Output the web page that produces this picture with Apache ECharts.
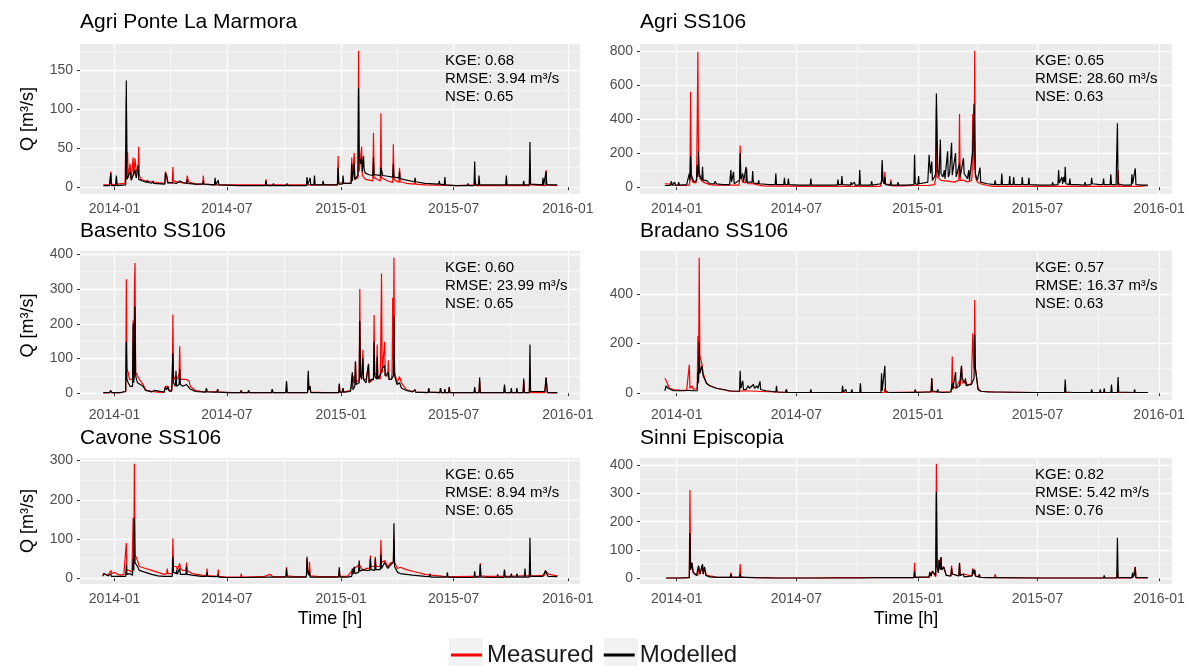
<!DOCTYPE html>
<html>
<head>
<meta charset="utf-8">
<script src="https://cdn.jsdelivr.net/npm/echarts@6/dist/echarts.min.js"></script>
<style>
  html, body { margin: 0; padding: 0; background: #fff; }
  #chart { width: 1189px; height: 666px; }
</style>
</head>
<body>
<div id="chart"></div>
<script>
// days are counted from 2014-01-01, values in m3/s

const agriPonteMeasured = [[-18,3],[-15,4],[-8,3],[-6,20],[-5,4],[2,3],[3,12],[4,4],[17,5],[19,115],[20,30],[21,45],[22,12],[25,30],[27,10],[30,38],[31,15],[33,37],[35,20],[38,25],[39,52],[40,15],[43,10],[50,8],[60,7],[70,6],[81,5],[82,20],[84,18],[86,6],[93,5],[94,26],[95,8],[105,6],[116,5],[117,15],[119,7],[130,4],[142,4],[143,15],[144,4],[160,3],[162,4],[180,3],[200,3],[243,3],[244,10],[245,3],[280,3],[320,3],[359,3],[360,40],[361,6],[370,5],[381,5],[382,38],[383,10],[386,44],[387,10],[392,12],[393,175],[394,20],[398,52],[399,15],[404,10],[416,8],[417,70],[418,12],[428,8],[429,95],[430,12],[440,8],[448,6],[449,55],[450,10],[458,6],[459,25],[460,7],[470,5],[483,4],[484,8],[485,4],[500,3],[550,2],[580,3],[581,8],[582,2],[620,2],[668,2],[669,25],[670,3],[694,2],[695,22],[696,3],[713,2]];
const agriPonteModelled = [[-18,2],[-8,2],[-6,18],[-5,2],[2,2],[3,15],[4,2],[18,3],[19,137],[20,10],[22,8],[25,20],[27,9],[33,22],[35,12],[38,28],[39,10],[45,8],[52,6],[53,9],[54,6],[60,5],[62,8],[63,5],[81,4],[82,18],[84,15],[86,5],[90,6],[100,5],[105,8],[110,6],[116,5],[117,10],[118,5],[130,4],[142,4],[143,8],[144,4],[161,3],[162,12],[163,3],[166,3],[167,9],[168,3],[200,2],[243,2],[244,8],[245,2],[255,2],[256,5],[257,2],[268,2],[269,4],[270,2],[277,2],[278,5],[279,2],[309,2],[310,13],[311,3],[314,3],[315,12],[316,3],[321,3],[322,15],[323,3],[335,3],[336,8],[337,3],[359,3],[360,25],[361,4],[367,4],[368,15],[369,5],[381,5],[382,30],[383,8],[386,30],[387,10],[392,15],[393,127],[394,40],[396,30],[398,38],[399,20],[401,40],[402,22],[404,18],[410,16],[416,15],[417,38],[418,16],[428,15],[429,25],[430,24],[432,15],[440,14],[448,13],[449,30],[450,13],[458,12],[459,20],[460,11],[470,9],[483,7],[484,12],[485,7],[500,5],[522,4],[523,8],[524,4],[531,3],[532,13],[533,3],[550,2],[568,2],[569,5],[570,2],[579,2],[580,33],[581,3],[586,3],[587,15],[588,3],[630,3],[631,15],[632,3],[658,3],[659,8],[660,3],[668,3],[669,58],[670,4],[689,3],[690,12],[691,3],[694,3],[695,20],[696,3],[713,3]];

const agriSS106Measured = [[-18,20],[-10,18],[-5,12],[5,10],[15,10],[19,12],[20,40],[21,560],[22,60],[24,30],[29,25],[30,40],[31,380],[32,795],[33,120],[35,50],[40,30],[50,15],[60,12],[80,12],[94,12],[95,30],[96,245],[97,60],[100,30],[104,25],[105,30],[106,110],[107,20],[115,20],[130,8],[150,6],[170,6],[200,5],[240,5],[270,5],[290,5],[308,5],[310,30],[311,130],[312,40],[314,20],[315,90],[316,20],[323,10],[324,45],[325,8],[340,8],[360,10],[380,10],[390,15],[392,50],[393,470],[394,60],[400,40],[410,35],[420,30],[427,40],[428,430],[429,40],[435,40],[440,30],[446,40],[447,60],[448,430],[450,100],[451,800],[452,60],[455,30],[460,20],[470,10],[480,5],[550,5],[600,5],[650,5],[667,5],[668,100],[669,5],[700,5],[713,10]];
const agriSS106Modelled = [[-18,10],[-10,10],[-9,12],[-8,35],[-7,10],[-4,12],[-3,30],[-2,10],[2,12],[3,30],[4,12],[15,15],[18,20],[19,80],[20,40],[21,180],[22,70],[24,60],[26,30],[30,40],[31,130],[32,60],[33,210],[34,80],[36,60],[38,40],[39,120],[40,40],[45,40],[50,20],[57,20],[58,35],[60,20],[70,15],[80,15],[81,20],[82,100],[83,30],[85,25],[86,90],[87,20],[95,40],[96,200],[97,50],[99,40],[100,80],[101,30],[104,40],[105,120],[106,30],[114,30],[115,95],[116,25],[123,20],[124,40],[125,20],[140,15],[149,15],[150,80],[151,15],[162,15],[163,55],[164,15],[168,15],[169,50],[170,15],[185,12],[202,12],[203,50],[204,12],[230,12],[243,12],[244,45],[245,15],[249,15],[250,65],[251,15],[263,12],[264,30],[265,15],[268,12],[269,30],[270,12],[276,12],[277,100],[278,12],[294,12],[295,35],[296,12],[309,20],[310,40],[311,160],[312,40],[314,20],[315,60],[316,15],[323,12],[324,30],[325,12],[334,12],[335,30],[336,12],[348,12],[359,15],[360,190],[361,20],[365,15],[366,65],[367,20],[380,30],[381,40],[382,190],[384,80],[386,150],[387,40],[390,60],[392,80],[393,550],[395,100],[397,60],[399,280],[400,80],[403,60],[405,100],[406,50],[409,60],[410,210],[411,60],[413,80],[415,70],[416,260],[417,70],[420,60],[422,200],[423,60],[426,50],[428,140],[429,60],[432,60],[434,170],[435,80],[438,90],[440,50],[442,100],[443,40],[446,50],[448,210],[450,490],[452,80],[455,40],[458,30],[459,115],[460,30],[470,20],[481,15],[482,40],[483,15],[491,15],[492,80],[493,15],[503,15],[504,65],[505,15],[509,15],[510,60],[511,15],[522,15],[523,60],[524,15],[532,15],[533,55],[534,15],[550,12],[568,12],[569,30],[570,12],[577,15],[578,100],[579,25],[582,20],[583,60],[584,20],[586,60],[587,30],[588,120],[589,20],[594,15],[595,50],[596,15],[605,15],[617,12],[618,30],[619,12],[627,15],[628,55],[629,20],[640,15],[645,15],[646,50],[647,15],[656,15],[657,75],[658,15],[665,15],[666,20],[667,375],[668,20],[675,12],[688,12],[689,75],[690,20],[693,20],[694,110],[695,15],[705,12],[713,12]];

const basentoMeasured = [[-18,1],[-8,2],[-7,2],[-6,8],[-5,2],[10,2],[18,5],[19,328],[20,70],[22,60],[24,40],[29,40],[30,210],[31,40],[32,300],[33,375],[34,60],[37,55],[40,40],[46,25],[50,10],[60,5],[70,3],[80,3],[82,20],[84,15],[86,20],[88,8],[92,8],[93,30],[94,227],[95,50],[97,40],[99,50],[102,40],[104,60],[105,135],[106,40],[110,40],[115,40],[120,35],[122,20],[130,8],[140,5],[147,4],[148,15],[149,5],[165,3],[166,12],[167,4],[180,2],[203,2],[204,8],[205,2],[215,2],[216,8],[217,2],[253,2],[254,12],[255,2],[276,2],[277,30],[278,2],[311,2],[312,55],[313,10],[315,20],[316,3],[337,2],[338,5],[339,2],[361,2],[362,25],[363,3],[367,3],[368,15],[369,3],[380,8],[382,20],[383,55],[385,30],[386,50],[387,30],[388,90],[389,30],[394,40],[395,300],[396,60],[398,50],[400,125],[401,40],[405,40],[407,35],[409,80],[410,30],[413,30],[417,40],[418,225],[419,60],[422,50],[423,140],[424,50],[428,40],[429,40],[430,345],[431,60],[434,60],[435,148],[436,50],[440,50],[441,95],[442,40],[446,40],[447,60],[448,275],[449,100],[450,390],[451,60],[455,30],[458,30],[459,48],[462,30],[470,10],[480,5],[483,3],[484,10],[485,3],[505,2],[506,15],[507,3],[524,2],[525,15],[526,2],[538,2],[539,18],[540,2],[579,2],[580,10],[581,2],[587,2],[588,35],[589,2],[627,2],[628,20],[629,2],[658,2],[659,35],[660,2],[668,2],[669,60],[670,2],[693,2],[695,45],[697,2],[713,1]];
const basentoModelled = [[-18,2],[-8,2],[-7,2],[-6,8],[-5,2],[10,2],[18,5],[19,148],[20,40],[22,30],[25,20],[29,20],[30,200],[31,30],[32,60],[33,250],[34,50],[37,30],[40,25],[46,20],[50,8],[51,5],[52,8],[60,4],[63,3],[64,8],[65,3],[80,3],[82,18],[84,10],[86,18],[88,6],[92,6],[93,10],[94,115],[95,30],[98,20],[99,65],[100,20],[104,25],[105,70],[106,25],[110,20],[116,25],[122,12],[130,5],[147,3],[148,15],[149,4],[165,3],[166,12],[167,3],[190,2],[203,2],[204,8],[205,2],[215,2],[216,8],[217,2],[253,2],[254,12],[255,2],[276,2],[277,35],[278,2],[311,2],[312,65],[313,10],[315,20],[316,2],[337,2],[338,5],[339,2],[361,2],[362,28],[363,3],[367,3],[368,15],[369,3],[380,5],[382,10],[383,60],[384,10],[387,20],[388,92],[389,25],[394,30],[395,208],[396,50],[398,40],[400,100],[401,40],[405,30],[408,30],[409,85],[410,30],[413,40],[417,40],[418,148],[419,50],[422,40],[423,105],[424,40],[430,60],[431,70],[435,80],[436,50],[441,60],[442,40],[446,40],[449,50],[450,222],[451,50],[455,25],[459,30],[462,15],[470,8],[480,4],[483,3],[484,10],[485,3],[505,2],[506,15],[507,3],[524,2],[525,15],[526,2],[531,2],[532,12],[533,2],[538,2],[539,18],[540,2],[579,2],[580,18],[581,2],[587,2],[588,45],[589,2],[627,2],[628,25],[629,2],[638,2],[639,15],[640,2],[647,2],[648,15],[649,2],[658,2],[659,42],[660,2],[668,2],[669,140],[670,5],[693,5],[695,45],[697,2],[713,2]];

const bradanoMeasured = [[-18,60],[-16,50],[-13,45],[-11,20],[-5,15],[5,12],[15,12],[18,15],[19,115],[20,20],[23,30],[25,15],[31,20],[32,230],[33,60],[34,545],[35,150],[38,120],[40,80],[45,40],[50,30],[60,20],[70,15],[80,8],[95,8],[100,10],[120,8],[150,5],[165,3],[166,15],[167,3],[200,3],[250,3],[280,3],[309,3],[310,5],[314,3],[315,20],[316,3],[360,5],[385,5],[386,60],[387,5],[410,5],[415,5],[416,20],[417,148],[418,30],[422,20],[428,50],[429,30],[431,110],[432,40],[437,50],[440,30],[446,40],[448,240],[450,100],[451,375],[452,100],[454,100],[456,20],[460,8],[480,5],[550,3],[600,3],[660,3],[713,3]];
const bradanoModelled = [[-18,10],[-16,30],[-13,20],[-11,12],[-5,10],[10,10],[18,12],[19,20],[20,12],[23,10],[31,10],[32,85],[33,40],[34,205],[35,80],[38,110],[40,70],[45,40],[50,30],[60,20],[70,15],[80,10],[84,9],[85,15],[86,8],[95,8],[96,90],[97,20],[100,50],[101,15],[105,15],[108,30],[110,20],[113,25],[116,35],[118,20],[121,30],[123,20],[126,48],[127,15],[135,10],[142,8],[143,15],[144,5],[150,5],[151,30],[152,5],[165,4],[166,15],[167,3],[180,3],[202,3],[203,15],[204,3],[240,3],[250,3],[251,30],[252,5],[255,4],[256,15],[257,3],[264,3],[265,15],[266,3],[277,3],[278,40],[279,3],[300,3],[309,3],[310,80],[311,10],[314,10],[315,110],[316,10],[320,3],[350,3],[360,3],[361,15],[362,3],[380,5],[385,5],[386,60],[387,10],[394,5],[395,15],[396,5],[402,3],[403,10],[404,3],[415,5],[416,10],[417,40],[418,15],[421,15],[422,85],[423,20],[428,30],[430,30],[431,110],[432,60],[436,40],[437,60],[438,30],[442,35],[446,35],[448,40],[450,60],[451,235],[452,100],[454,60],[456,15],[460,8],[470,5],[490,5],[509,4],[510,10],[511,3],[534,3],[535,10],[536,3],[560,3],[587,3],[588,55],[589,5],[600,3],[627,3],[628,15],[629,3],[640,3],[641,15],[642,3],[646,3],[647,20],[648,3],[657,3],[658,35],[659,3],[667,3],[668,65],[669,5],[692,3],[693,15],[694,3],[713,3]];

const cavoneMeasured = [[-19,12],[-15,10],[-10,8],[-7,8],[-6,20],[-4,12],[0,15],[5,10],[10,8],[15,10],[18,15],[19,90],[20,20],[24,20],[28,15],[29,20],[30,155],[31,50],[32,292],[33,60],[37,45],[40,30],[50,25],[60,20],[70,15],[80,10],[84,12],[85,25],[86,12],[93,12],[94,102],[95,30],[100,30],[101,20],[104,20],[105,38],[106,25],[110,20],[115,20],[116,40],[117,20],[125,12],[140,8],[148,7],[149,25],[150,7],[166,5],[167,22],[168,5],[180,3],[203,3],[204,12],[205,3],[240,4],[250,10],[255,4],[260,4],[276,4],[277,28],[278,6],[290,4],[309,4],[310,50],[311,20],[313,12],[314,42],[315,6],[330,4],[350,4],[361,4],[362,20],[363,5],[375,5],[383,20],[386,20],[394,35],[400,20],[405,25],[411,25],[412,58],[413,30],[419,30],[420,55],[421,30],[428,30],[429,98],[430,40],[435,45],[440,30],[445,40],[449,40],[450,100],[451,40],[456,25],[460,28],[470,22],[480,18],[490,14],[500,10],[510,8],[530,5],[550,4],[580,5],[588,5],[589,38],[590,6],[600,5],[627,5],[628,20],[629,5],[660,6],[668,6],[669,40],[670,6],[680,6],[693,8],[694,18],[700,10],[713,6]];
const cavoneModelled = [[-19,5],[-17,12],[-15,8],[-10,6],[-7,6],[-6,12],[-5,5],[0,5],[10,5],[18,5],[19,35],[20,10],[24,12],[29,8],[30,50],[31,20],[32,152],[33,40],[37,30],[40,20],[50,15],[60,10],[70,6],[80,5],[84,5],[85,10],[86,5],[93,5],[94,55],[95,15],[99,12],[100,20],[101,10],[104,10],[105,25],[106,10],[115,10],[116,30],[117,10],[125,8],[140,5],[148,5],[149,15],[150,5],[166,4],[167,10],[168,3],[180,2],[203,2],[204,5],[205,2],[250,3],[276,3],[277,25],[278,3],[300,3],[309,3],[310,55],[311,15],[313,8],[314,20],[315,3],[340,3],[361,3],[362,28],[363,3],[375,3],[382,5],[383,25],[384,10],[386,30],[387,12],[393,15],[394,45],[395,18],[400,22],[405,20],[411,20],[412,50],[413,22],[419,20],[420,50],[421,22],[428,22],[429,60],[430,25],[435,40],[440,25],[445,35],[449,40],[450,140],[451,30],[456,15],[460,12],[470,10],[480,8],[500,5],[507,4],[508,12],[509,3],[535,3],[536,15],[537,3],[560,2],[579,2],[580,18],[581,3],[588,3],[589,35],[590,3],[610,2],[616,2],[617,10],[618,2],[627,2],[628,22],[629,3],[638,3],[639,12],[640,3],[647,3],[648,12],[649,3],[660,3],[661,25],[662,3],[668,3],[669,103],[670,5],[690,5],[694,20],[698,5],[713,4]];

const sinniMeasured = [[-16,1],[-7,1],[-6,5],[-5,1],[5,1],[6,5],[7,1],[19,2],[20,312],[21,30],[23,55],[25,20],[32,10],[33,40],[35,15],[38,15],[39,45],[40,15],[42,35],[45,10],[61,3],[62,8],[63,3],[81,3],[82,20],[83,5],[95,3],[96,50],[97,5],[104,3],[105,10],[106,3],[119,2],[120,8],[121,2],[150,1],[200,1],[250,2],[300,2],[359,2],[360,55],[361,3],[382,3],[383,20],[385,8],[387,25],[392,5],[393,405],[394,50],[396,20],[397,65],[399,30],[400,75],[401,30],[404,40],[408,10],[415,8],[416,45],[417,15],[427,8],[428,50],[429,10],[434,15],[447,8],[448,35],[450,20],[451,30],[452,8],[457,5],[458,15],[459,3],[481,2],[482,15],[483,2],[522,1],[523,5],[524,1],[600,1],[646,1],[647,8],[648,1],[666,1],[667,20],[668,1],[689,1],[690,15],[691,3],[693,5],[694,40],[695,1],[713,1]];
const sinniModelled = [[-16,1],[-7,1],[-6,5],[-5,1],[5,1],[6,5],[7,1],[19,2],[20,160],[21,30],[23,55],[25,20],[30,10],[32,10],[33,45],[35,15],[38,15],[39,50],[40,15],[42,40],[44,10],[50,5],[61,3],[62,8],[63,2],[70,3],[81,3],[82,15],[83,3],[95,3],[96,15],[97,3],[104,3],[105,10],[106,3],[119,2],[120,8],[121,2],[150,1],[200,1],[244,1],[245,5],[246,1],[280,1],[300,2],[359,2],[360,25],[361,3],[382,5],[383,22],[385,8],[387,25],[392,10],[393,305],[394,40],[396,20],[397,65],[399,30],[400,75],[401,30],[404,40],[408,10],[415,8],[416,35],[417,15],[420,8],[427,8],[428,55],[429,10],[434,15],[435,5],[447,8],[448,30],[450,15],[451,30],[452,8],[457,5],[458,15],[459,3],[470,2],[481,2],[482,5],[483,2],[550,1],[600,1],[646,1],[647,10],[648,1],[666,1],[667,143],[668,2],[689,2],[690,20],[691,5],[693,15],[694,40],[695,2],[713,2]];

const stations = ['Agri Ponte La Marmora', 'Agri SS106', 'Basento SS106', 'Bradano SS106', 'Cavone SS106', 'Sinni Episcopia'];
const measured = [agriPonteMeasured, agriSS106Measured, basentoMeasured, bradanoMeasured, cavoneMeasured, sinniMeasured];
const modelled = [agriPonteModelled, agriSS106Modelled, basentoModelled, bradanoModelled, cavoneModelled, sinniModelled];

const kge  = ['0.68', '0.65', '0.60', '0.57', '0.65', '0.82'];
const rmse = ['3.94', '28.60', '23.99', '16.37', '8.94', '5.42'];
const nse  = ['0.65', '0.63', '0.65', '0.63', '0.65', '0.76'];

const yMajor = [[0,50,100,150], [0,200,400,600,800], [0,100,200,300,400], [0,200,400], [0,100,200,300], [0,100,200,300,400]];
const yMinor = [[25,75,125,175], [100,300,500,700], [50,150,250,350], [100,300,500], [50,150,250], [50,150,250,350]];
const xMajor = ['2014-01-01', '2014-07-01', '2015-01-01', '2015-07-01', '2016-01-01'];
const xMinor = ['2014-04-01', '2014-10-01', '2015-04-01', '2015-10-01'];

// layout (pixels)
const FONT = '"Liberation Sans", Arial, Helvetica, sans-serif';
const colLeft = [80, 640];
const colWidth = [500, 532];
const rowTop = [44, 251, 458];
const rowHeight = [150, 149, 126];
const titleTop = [12, 221, 428];
const statsX = [445, 1035];

const DAY = 86400000;
const T0 = Date.UTC(2014, 0, 1);
const toTime = d => T0 + d * DAY;
const parseDay = s => { const p = s.split('-'); return Date.UTC(+p[0], +p[1] - 1, +p[2]); };
const pad = n => (n < 10 ? '0' : '') + n;

// ggplot-like 5% expansion of the data range
let dMin = Infinity, dMax = -Infinity;
measured.concat(modelled).forEach(s => s.forEach(p => { dMin = Math.min(dMin, p[0]); dMax = Math.max(dMax, p[0]); }));
const span = dMax - dMin;
const xMin = toTime(dMin - 0.05 * span);
const xMax = toTime(dMax + 0.05 * span);

const grids = [], xAxes = [], yAxes = [], series = [], titles = [], graphics = [];

stations.forEach((name, i) => {
  const row = Math.floor(i / 2), col = i % 2;
  const top = rowTop[row];
  grids.push({
    left: colLeft[col], top: top, width: colWidth[col], height: rowHeight[row],
    show: true, backgroundColor: '#ebebeb', borderWidth: 0, containLabel: false, outerBoundsMode: 'none'
  });

  const yMaxData = Math.max(...measured[i].map(p => p[1]), ...modelled[i].map(p => p[1]));
  const yLo = -0.05 * yMaxData, yHi = 1.05 * yMaxData;
  const bottomRow = row === 2;

  // timestamps on a value axis, so the month gridlines can be placed exactly
  xAxes.push({
    gridIndex: i, type: 'value', min: xMin, max: xMax, position: 'bottom',
    axisLine: { show: false },
    axisTick: { show: true, length: 3, lineStyle: { color: '#333', width: 1 }, customValues: xMajor.map(parseDay) },
    axisLabel: {
      customValues: xMajor.map(parseDay), color: '#4d4d4d', fontSize: 14, fontFamily: FONT, margin: 8,
      formatter: v => { const d = new Date(v); return d.getUTCFullYear() + '-' + pad(d.getUTCMonth() + 1); }
    },
    splitLine: { show: true, lineStyle: { color: '#ffffff', width: 1.3 } },
    name: bottomRow ? 'Time [h]' : '', nameLocation: 'middle', nameGap: 26,
    nameTextStyle: { fontSize: 18, color: '#000', fontFamily: FONT }
  });
  xAxes.push({
    gridIndex: i, type: 'value', min: xMin, max: xMax, position: 'bottom',
    axisLine: { show: false }, axisLabel: { show: false },
    axisTick: { show: false, customValues: xMinor.map(parseDay) },
    splitLine: { show: true, lineStyle: { color: '#ffffff', width: 0.6 } }
  });

  yAxes.push({
    gridIndex: i, type: 'value', min: yLo, max: yHi,
    axisLine: { show: false },
    axisTick: { show: true, length: 3, lineStyle: { color: '#333', width: 1 }, customValues: yMajor[i] },
    axisLabel: { customValues: yMajor[i], color: '#4d4d4d', fontSize: 14, fontFamily: FONT, margin: 7 },
    splitLine: { show: true, lineStyle: { color: '#ffffff', width: 1.3 } },
    name: col === 0 ? 'Q [m³/s]' : '', nameLocation: 'middle', nameRotate: 90, nameGap: 43,
    nameTextStyle: { fontSize: 18, color: '#000', fontFamily: FONT }
  });
  yAxes.push({
    gridIndex: i, type: 'value', min: yLo, max: yHi, position: 'left',
    axisLine: { show: false }, axisLabel: { show: false },
    axisTick: { show: false, customValues: yMinor[i] },
    splitLine: { show: true, lineStyle: { color: '#ffffff', width: 0.6 } }
  });

  series.push({
    name: 'Measured', type: 'line', xAxisIndex: 2 * i, yAxisIndex: 2 * i,
    data: measured[i].map(p => [toTime(p[0]), p[1]]),
    symbol: 'none', showSymbol: false, silent: true, z: 2,
    lineStyle: { color: '#ff0000', width: 1.2 }, itemStyle: { color: '#ff0000' }
  });
  series.push({
    name: 'Modelled', type: 'line', xAxisIndex: 2 * i, yAxisIndex: 2 * i,
    data: modelled[i].map(p => [toTime(p[0]), p[1]]),
    symbol: 'none', showSymbol: false, silent: true, z: 3,
    lineStyle: { color: '#000000', width: 1.2 }, itemStyle: { color: '#000000' }
  });

  titles.push({
    text: name, left: colLeft[col], top: titleTop[row], padding: 0,
    textStyle: { fontSize: 21, fontWeight: 'normal', color: '#000', fontFamily: FONT }
  });

  ['KGE: ' + kge[i], 'RMSE: ' + rmse[i] + ' m³/s', 'NSE: ' + nse[i]].forEach((t, k) => {
    graphics.push({
      type: 'text', x: statsX[col], y: top + 17 + k * 18, z: 10,
      style: { text: t, fill: '#000', fontSize: 15, fontFamily: FONT, verticalAlign: 'middle', align: 'left' }
    });
  });
});

// legend key backgrounds
graphics.push({ type: 'rect', shape: { x: 449, y: 638, width: 34, height: 28 }, style: { fill: '#f2f2f2' }, z: 0 });
graphics.push({ type: 'rect', shape: { x: 604, y: 638, width: 34, height: 28 }, style: { fill: '#f2f2f2' }, z: 0 });

const chart = echarts.init(document.getElementById('chart'), null, { renderer: 'canvas' });
chart.setOption({
  animation: false,
  backgroundColor: '#ffffff',
  title: titles,
  grid: grids,
  xAxis: xAxes,
  yAxis: yAxes,
  series: series,
  graphic: graphics,
  legend: {
    data: ['Measured', 'Modelled'], left: 451, top: 643, padding: 0,
    icon: 'rect', itemWidth: 31, itemHeight: 3, itemGap: 10,
    textStyle: { fontSize: 24, color: '#1a1a1a', fontFamily: FONT }
  }
});
</script>
</body>
</html>
